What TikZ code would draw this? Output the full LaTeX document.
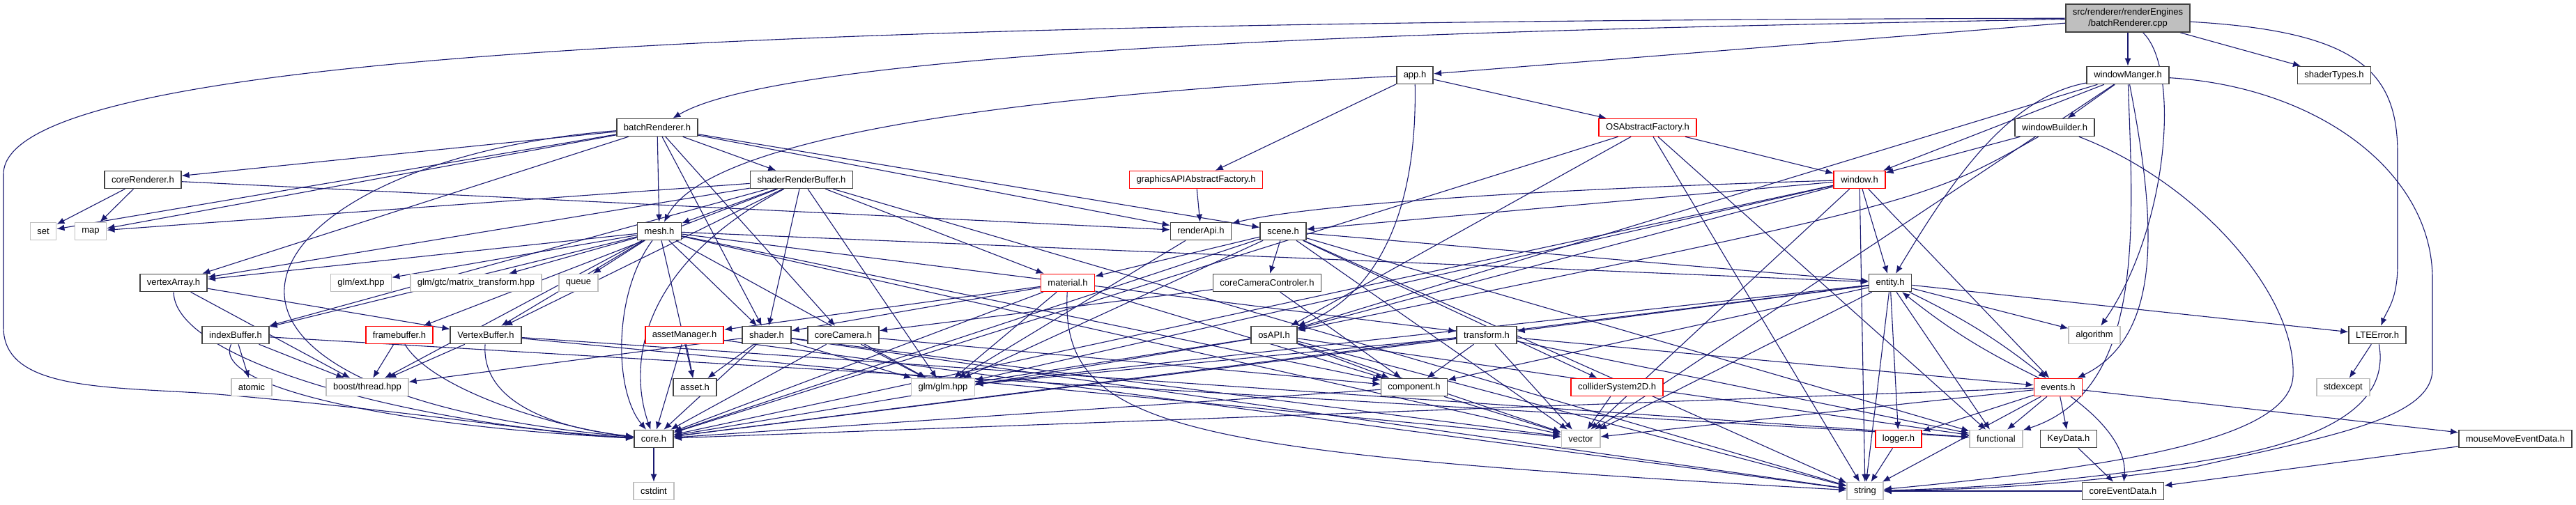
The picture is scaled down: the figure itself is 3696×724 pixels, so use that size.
\documentclass[tikz,border=0pt]{standalone}
\usepackage{fontspec}
\setmainfont{Liberation Sans}
\usetikzlibrary{arrows.meta,backgrounds}
\definecolor{edgeblue}{HTML}{191970}
\definecolor{boxgray}{HTML}{BFBFBF}
\definecolor{boxdark}{HTML}{404040}

\begin{document}
\begin{tikzpicture}[x=0.5pt, y=-0.5pt,
  every node/.style={font=\fontsize{6.5}{7.8}\selectfont},
  hdr/.style={draw=boxdark, line width=0.8pt, fill=white, inner xsep=5pt, inner ysep=0pt, minimum height=12.5pt},
  redhdr/.style={hdr, draw=red},
  syshdr/.style={hdr, draw=boxgray},
  dep/.style={draw=edgeblue, line width=0.55pt, -{Latex[length=5.5pt,width=4.5pt]}}]
\useasboundingbox (0,0) rectangle (3696,724);

% the source file
\node[hdr, fill=boxgray, align=center, minimum height=20pt] (root) at (3053,26) {src/renderer/renderEngines\\/batchRenderer.cpp};

% direct includes
\node[hdr] (app) at (2030,108) {app.h};
\node[hdr] (wmgr) at (3053,108) {windowManger.h};
\node[hdr] (shtypes) at (3349,108) {shaderTypes.h};

\node[hdr] (batch) at (943,183) {batchRenderer.h};
\node[redhdr] (osfac) at (2364,183) {OSAbstractFactory.h};
\node[hdr] (wbuild) at (2948,183) {windowBuilder.h};

\node[hdr] (corerend) at (205,258) {coreRenderer.h};
\node[hdr] (srbuf) at (1150,258) {shaderRenderBuffer.h};
\node[redhdr] (gfac) at (1716,258) {graphicsAPIAbstractFactory.h};
\node[redhdr] (win) at (2668,258) {window.h};

\node[syshdr] (set) at (62,332) {set};
\node[syshdr] (map) at (130,332) {map};
\node[hdr] (mesh) at (946,332) {mesh.h};
\node[hdr] (rapi) at (1723,332) {renderApi.h};
\node[hdr] (scene) at (1841,332) {scene.h};

\node[hdr] (varr) at (249,406) {vertexArray.h};
\node[syshdr] (glmext) at (518,406) {glm/ext.hpp};
\node[syshdr] (glmgtc) at (683,406) {glm/gtc/matrix\_transform.hpp};
\node[syshdr] (queue) at (830,406) {queue};
\node[redhdr] (mat) at (1532,406) {material.h};
\node[hdr] (camctl) at (1818,406) {coreCameraControler.h};
\node[hdr] (entity) at (2712,406) {entity.h};

\node[hdr] (ibuf) at (338,481) {indexBuffer.h};
\node[redhdr] (fbuf) at (573,481) {framebuffer.h};
\node[hdr] (vbuf) at (697,481) {VertexBuffer.h};
\node[redhdr] (amgr) at (982,481) {assetManager.h};
\node[hdr] (shader) at (1100,481) {shader.h};
\node[hdr] (cam) at (1210,481) {coreCamera.h};
\node[hdr] (osapi) at (1828,481) {osAPI.h};
\node[hdr] (transf) at (2133,481) {transform.h};
\node[syshdr] (algo) at (3005,481) {algorithm};
\node[hdr] (lte) at (3411,481) {LTEError.h};

\node[syshdr] (atomic) at (361,556) {atomic};
\node[syshdr] (boost) at (527,556) {boost/thread.hpp};
\node[hdr] (asset) at (997,556) {asset.h};
\node[syshdr] (glm) at (1353,556) {glm/glm.hpp};
\node[hdr] (comp) at (2029,556) {component.h};
\node[redhdr] (coll) at (2320,556) {colliderSystem2D.h};
\node[redhdr] (events) at (2953,556) {events.h};
\node[syshdr] (stdexc) at (3362,556) {stdexcept};

\node[hdr] (core) at (938,630) {core.h};
\node[syshdr] (vector) at (2268,630) {vector};
\node[redhdr] (logger) at (2724,630) {logger.h};
\node[syshdr] (func) at (2864,630) {functional};
\node[hdr] (keyd) at (2968,630) {KeyData.h};
\node[hdr] (mouse) at (3609,630) {mouseMoveEventData.h};

\node[syshdr] (cstdint) at (938,705) {cstdint};
\node[syshdr] (string) at (2676,705) {string};
\node[hdr] (cevd) at (3046,705) {coreEventData.h};

\begin{scope}[on background layer]
% straight include edges
\foreach \src/\dst in {root/app, root/wmgr, root/shtypes,
    app/osfac, app/gfac,
    wmgr/wbuild, wmgr/win, wmgr/osapi, wmgr/vector,
    wbuild/win,
    osfac/win, osfac/osapi, osfac/core, osfac/string, osfac/func,
    gfac/rapi,
    win/scene, win/entity, win/events, win/glm, win/core, win/vector, win/string, win/osapi,
    batch/corerend, batch/srbuf, batch/mesh, batch/set, batch/map, batch/varr, batch/rapi, batch/scene, batch/cam, batch/shader,
    corerend/set, corerend/map, corerend/rapi,
    srbuf/mesh, srbuf/map, srbuf/varr, srbuf/vbuf, srbuf/ibuf, srbuf/fbuf, srbuf/shader, srbuf/mat, srbuf/glm, srbuf/string,
    mesh/varr, mesh/ibuf, mesh/vbuf, mesh/glmext, mesh/glmgtc, mesh/queue, mesh/shader, mesh/asset, mesh/glm, mesh/transf, mesh/comp, mesh/entity, mesh/vector, mesh/boost,
    rapi/glm,
    scene/entity, scene/camctl, scene/mat, scene/coll, scene/glm, scene/core, scene/vector, scene/string, scene/func,
    varr/vbuf, varr/boost,
    ibuf/atomic, ibuf/boost, ibuf/func,
    fbuf/boost,
    vbuf/boost, vbuf/vector, vbuf/func,
    amgr/asset, amgr/core, amgr/string,
    shader/asset, shader/boost, shader/glm, shader/core, shader/string, shader/vector,
    cam/glm, cam/core, cam/comp,
    mat/amgr, mat/shader, mat/glm, mat/core, mat/comp,
    camctl/cam, camctl/comp,
    osapi/glm, osapi/core, osapi/vector, osapi/string, osapi/func, osapi/comp,
    transf/comp, transf/glm, transf/vector, transf/core, transf/events, transf/func,
    entity/transf, entity/comp, entity/algo, entity/lte, entity/logger, entity/func, entity/vector, entity/string, entity/core, entity/glm,
    events/logger, events/func, events/keyd, events/mouse, events/string, events/core, events/vector,
    comp/core, comp/vector, coll/vector, logger/string, keyd/cevd, mouse/cevd, lte/stdexc, cevd/string, core/cstdint}
  \draw[dep] (\src) -- (\dst);

% routed edges
\draw[dep] (root) .. controls (2300,40) and (1150,60) .. (batch);
\draw[dep] (root) .. controls (1200,30) and (5,70) .. (5,250) -- (5,470) .. controls (5,560) and (150,555) .. (300,565) .. controls (600,590) and (800,625) .. (core);
\draw[dep] (root) .. controls (3380,45) and (3440,100) .. (3440,220) -- (3440,380) .. controls (3440,430) and (3425,445) .. (lte);
\draw[dep] (root) .. controls (3130,100) and (3110,330) .. (algo);
\draw[dep] (app) .. controls (1500,135) and (1020,190) .. (mesh);
\draw[dep] (app) .. controls (2034,330) and (1960,430) .. (osapi);
\draw[dep] (wmgr) .. controls (3330,125) and (3490,250) .. (3490,400) -- (3490,530) .. controls (3490,600) and (3350,625) .. (3150,670) .. controls (2950,700) and (2800,703) .. (string);
\draw[dep] (wmgr) .. controls (3090,300) and (3110,480) .. (events);
\draw[dep] (wmgr) .. controls (3060,320) and (3080,560) .. (func);
\draw[dep] (wmgr) .. controls (2880,140) and (2800,260) .. (entity);
\draw[dep] (wbuild) .. controls (3150,260) and (3295,420) .. (3290,540) .. controls (3285,620) and (3100,665) .. (string);
\draw[dep] (wbuild) .. controls (2760,290) .. (osapi);
\draw[dep] (win) .. controls (2100,275) and (1850,300) .. (rapi);
\draw[dep] (lte) .. controls (3425,560) and (3380,620) .. (3200,655) .. controls (3000,690) and (2850,700) .. (string);
\draw[dep] (mat) .. controls (1520,620) and (1700,650) .. (string);
\draw[dep] (batch) .. controls (350,230) and (150,560) .. (core);
\draw[dep] (mesh) .. controls (880,420) and (880,560) .. (core);
\draw[dep] (srbuf) .. controls (920,380) and (900,520) .. (core);
\draw[dep] (varr) .. controls (250,520) and (600,610) .. (core);
\draw[dep] (ibuf) .. controls (300,560) and (600,615) .. (core);
\draw[dep] (vbuf) .. controls (690,580) and (800,615) .. (core);
\draw[dep] (fbuf) .. controls (620,560) and (800,615) .. (core);
\draw[dep] (entity) to[bend left=6] (events);
\draw[dep] (events) to[bend left=6] (entity);
\draw[dep] (events) .. controls (3040,620) and (3050,660) .. (cevd);
\end{scope}
\end{tikzpicture}
\end{document}
